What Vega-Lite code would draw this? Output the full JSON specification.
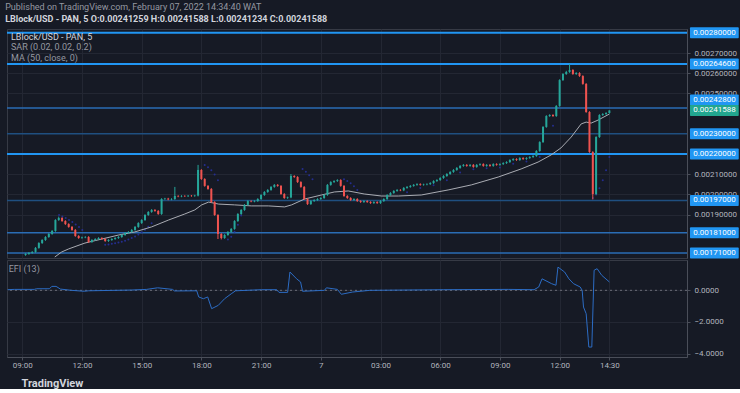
{
"$schema":"https://vega.github.io/schema/vega-lite/v6.json",
"background":"#161a25",
"padding":{"left":5,"top":2,"right":0,"bottom":0},
"title":{"text":"Published on TradingView.com, February 07, 2022 14:34:40 WAT","subtitle":"LBlock/USD - PAN, 5  O:0.00241259 H:0.00241588 L:0.00241234 C:0.00241588","anchor":"start","fontSize":9,"fontWeight":"normal","color":"#9598a1","subtitleFontSize":9,"subtitleFontWeight":"bold","subtitleColor":"#d1d4dc","subtitlePadding":3,"offset":3,"font":"Roboto","subtitleFont":"Roboto"},
"spacing":2,
"bounds":"flush",
"datasets":{
"candles":[
{"t":550,"o":0.0017,"h":0.001709,"l":0.001696,"c":0.001705},
{"t":560,"o":0.001705,"h":0.001714,"l":0.001701,"c":0.00171},
{"t":570,"o":0.00171,"h":0.001719,"l":0.001706,"c":0.001715},
{"t":580,"o":0.001715,"h":0.001739,"l":0.001711,"c":0.001735},
{"t":590,"o":0.001735,"h":0.001763,"l":0.001731,"c":0.001759},
{"t":600,"o":0.001759,"h":0.001778,"l":0.001755,"c":0.001774},
{"t":610,"o":0.001774,"h":0.001793,"l":0.00177,"c":0.001789},
{"t":620,"o":0.001789,"h":0.001808,"l":0.001785,"c":0.001804},
{"t":630,"o":0.001804,"h":0.001823,"l":0.0018,"c":0.001819},
{"t":640,"o":0.001819,"h":0.001877,"l":0.001815,"c":0.001873},
{"t":650,"o":0.001873,"h":0.00189,"l":0.001869,"c":0.001883},
{"t":660,"o":0.001883,"h":0.001887,"l":0.001864,"c":0.001868},
{"t":670,"o":0.001868,"h":0.001872,"l":0.001849,"c":0.001853},
{"t":680,"o":0.001853,"h":0.001857,"l":0.001835,"c":0.001839},
{"t":690,"o":0.001839,"h":0.001843,"l":0.00182,"c":0.001824},
{"t":700,"o":0.001824,"h":0.001828,"l":0.00179,"c":0.001794},
{"t":710,"o":0.001794,"h":0.001798,"l":0.00178,"c":0.001784},
{"t":720,"o":0.001784,"h":0.001791,"l":0.00178,"c":0.001787},
{"t":730,"o":0.001787,"h":0.001793,"l":0.001783,"c":0.001789},
{"t":740,"o":0.001789,"h":0.001793,"l":0.00176,"c":0.001764},
{"t":750,"o":0.001764,"h":0.001778,"l":0.00176,"c":0.001774},
{"t":760,"o":0.001774,"h":0.001783,"l":0.00177,"c":0.001779},
{"t":770,"o":0.001779,"h":0.001788,"l":0.001775,"c":0.001784},
{"t":780,"o":0.001784,"h":0.001788,"l":0.001775,"c":0.001779},
{"t":790,"o":0.001779,"h":0.001783,"l":0.001765,"c":0.001769},
{"t":800,"o":0.001769,"h":0.001778,"l":0.001765,"c":0.001774},
{"t":810,"o":0.001774,"h":0.001783,"l":0.00177,"c":0.001779},
{"t":820,"o":0.001779,"h":0.001788,"l":0.001775,"c":0.001784},
{"t":830,"o":0.001784,"h":0.001793,"l":0.00178,"c":0.001789},
{"t":840,"o":0.001789,"h":0.001803,"l":0.001785,"c":0.001799},
{"t":850,"o":0.001799,"h":0.001813,"l":0.001795,"c":0.001809},
{"t":860,"o":0.001809,"h":0.001818,"l":0.001805,"c":0.001814},
{"t":870,"o":0.001814,"h":0.001828,"l":0.00181,"c":0.001824},
{"t":880,"o":0.001824,"h":0.001843,"l":0.00182,"c":0.001839},
{"t":890,"o":0.001839,"h":0.001862,"l":0.001835,"c":0.001858},
{"t":900,"o":0.001858,"h":0.001877,"l":0.001854,"c":0.001873},
{"t":910,"o":0.001873,"h":0.001902,"l":0.001869,"c":0.001898},
{"t":920,"o":0.001898,"h":0.001917,"l":0.001894,"c":0.001913},
{"t":930,"o":0.001913,"h":0.001927,"l":0.001909,"c":0.001923},
{"t":940,"o":0.001923,"h":0.001927,"l":0.001914,"c":0.001918},
{"t":950,"o":0.001918,"h":0.001922,"l":0.001899,"c":0.001903},
{"t":960,"o":0.001903,"h":0.001981,"l":0.001899,"c":0.001977},
{"t":970,"o":0.001977,"h":0.001983,"l":0.001973,"c":0.001979},
{"t":980,"o":0.001979,"h":0.001983,"l":0.001971,"c":0.001975},
{"t":990,"o":0.001975,"h":0.001981,"l":0.001971,"c":0.001977},
{"t":1000,"o":0.001977,"h":0.002037,"l":0.001973,"c":0.001992},
{"t":1010,"o":0.001992,"h":0.001996,"l":0.001986,"c":0.00199},
{"t":1020,"o":0.00199,"h":0.001996,"l":0.001986,"c":0.001992},
{"t":1030,"o":0.001992,"h":0.001996,"l":0.001987,"c":0.001991},
{"t":1040,"o":0.001991,"h":0.001997,"l":0.001987,"c":0.001993},
{"t":1050,"o":0.001993,"h":0.001997,"l":0.001988,"c":0.001992},
{"t":1060,"o":0.001992,"h":0.001998,"l":0.001988,"c":0.001994},
{"t":1070,"o":0.001994,"h":0.002146,"l":0.00199,"c":0.002121},
{"t":1080,"o":0.002121,"h":0.002125,"l":0.002072,"c":0.002076},
{"t":1090,"o":0.002076,"h":0.00208,"l":0.002038,"c":0.002042},
{"t":1100,"o":0.002042,"h":0.002046,"l":0.002023,"c":0.002027},
{"t":1110,"o":0.002027,"h":0.002031,"l":0.001958,"c":0.001962},
{"t":1120,"o":0.001962,"h":0.001966,"l":0.001894,"c":0.001898},
{"t":1130,"o":0.001898,"h":0.001902,"l":0.001779,"c":0.001804},
{"t":1140,"o":0.001804,"h":0.001808,"l":0.001777,"c":0.001784},
{"t":1150,"o":0.001784,"h":0.001803,"l":0.00178,"c":0.001799},
{"t":1160,"o":0.001799,"h":0.001818,"l":0.001795,"c":0.001814},
{"t":1170,"o":0.001814,"h":0.001833,"l":0.00181,"c":0.001829},
{"t":1180,"o":0.001829,"h":0.001872,"l":0.001825,"c":0.001868},
{"t":1190,"o":0.001868,"h":0.001907,"l":0.001864,"c":0.001903},
{"t":1200,"o":0.001903,"h":0.001927,"l":0.001899,"c":0.001923},
{"t":1210,"o":0.001923,"h":0.001952,"l":0.001919,"c":0.001948},
{"t":1220,"o":0.001948,"h":0.001971,"l":0.001944,"c":0.001967},
{"t":1230,"o":0.001967,"h":0.001971,"l":0.001961,"c":0.001965},
{"t":1240,"o":0.001965,"h":0.001971,"l":0.001961,"c":0.001967},
{"t":1250,"o":0.001967,"h":0.001981,"l":0.001963,"c":0.001977},
{"t":1260,"o":0.001977,"h":0.002001,"l":0.001973,"c":0.001997},
{"t":1270,"o":0.001997,"h":0.002016,"l":0.001993,"c":0.002012},
{"t":1280,"o":0.002012,"h":0.002026,"l":0.002008,"c":0.002022},
{"t":1290,"o":0.002022,"h":0.002041,"l":0.002018,"c":0.002037},
{"t":1300,"o":0.002037,"h":0.002051,"l":0.002033,"c":0.002047},
{"t":1310,"o":0.002047,"h":0.002051,"l":0.002038,"c":0.002042},
{"t":1320,"o":0.002042,"h":0.002046,"l":0.001998,"c":0.002002},
{"t":1330,"o":0.002002,"h":0.002006,"l":0.001978,"c":0.001982},
{"t":1340,"o":0.001982,"h":0.001989,"l":0.001978,"c":0.001985},
{"t":1350,"o":0.001985,"h":0.002101,"l":0.001981,"c":0.002091},
{"t":1360,"o":0.002091,"h":0.002095,"l":0.002082,"c":0.002086},
{"t":1370,"o":0.002086,"h":0.00209,"l":0.002057,"c":0.002061},
{"t":1380,"o":0.002061,"h":0.002065,"l":0.002033,"c":0.002037},
{"t":1390,"o":0.002037,"h":0.002041,"l":0.001973,"c":0.001977},
{"t":1400,"o":0.001977,"h":0.001981,"l":0.001948,"c":0.001952},
{"t":1410,"o":0.001952,"h":0.001971,"l":0.001948,"c":0.001967},
{"t":1420,"o":0.001967,"h":0.001976,"l":0.001963,"c":0.001972},
{"t":1430,"o":0.001972,"h":0.001981,"l":0.001968,"c":0.001977},
{"t":1440,"o":0.001977,"h":0.001986,"l":0.001973,"c":0.001982},
{"t":1450,"o":0.001982,"h":0.002001,"l":0.001978,"c":0.001997},
{"t":1460,"o":0.001997,"h":0.002051,"l":0.001993,"c":0.002047},
{"t":1470,"o":0.002047,"h":0.002065,"l":0.002043,"c":0.002061},
{"t":1480,"o":0.002061,"h":0.00207,"l":0.002057,"c":0.002066},
{"t":1490,"o":0.002066,"h":0.002075,"l":0.002062,"c":0.002071},
{"t":1500,"o":0.002071,"h":0.002075,"l":0.002038,"c":0.002042},
{"t":1510,"o":0.002042,"h":0.002046,"l":0.001988,"c":0.001992},
{"t":1520,"o":0.001992,"h":0.001996,"l":0.001978,"c":0.001982},
{"t":1530,"o":0.001982,"h":0.001986,"l":0.001968,"c":0.001972},
{"t":1540,"o":0.001972,"h":0.001981,"l":0.001968,"c":0.001977},
{"t":1550,"o":0.001977,"h":0.001981,"l":0.001963,"c":0.001967},
{"t":1560,"o":0.001967,"h":0.001971,"l":0.001958,"c":0.001962},
{"t":1570,"o":0.001962,"h":0.001971,"l":0.001958,"c":0.001967},
{"t":1580,"o":0.001967,"h":0.001971,"l":0.001958,"c":0.001962},
{"t":1590,"o":0.001962,"h":0.001966,"l":0.001953,"c":0.001957},
{"t":1600,"o":0.001957,"h":0.001966,"l":0.001953,"c":0.001962},
{"t":1610,"o":0.001962,"h":0.001966,"l":0.001953,"c":0.001957},
{"t":1620,"o":0.001957,"h":0.001971,"l":0.001953,"c":0.001967},
{"t":1630,"o":0.001967,"h":0.001981,"l":0.001963,"c":0.001977},
{"t":1640,"o":0.001977,"h":0.002001,"l":0.001973,"c":0.001997},
{"t":1650,"o":0.001997,"h":0.002011,"l":0.001993,"c":0.002007},
{"t":1660,"o":0.002007,"h":0.002021,"l":0.002003,"c":0.002017},
{"t":1670,"o":0.002017,"h":0.002026,"l":0.002013,"c":0.002022},
{"t":1680,"o":0.002022,"h":0.002026,"l":0.002016,"c":0.00202},
{"t":1690,"o":0.00202,"h":0.002036,"l":0.002016,"c":0.002032},
{"t":1700,"o":0.002032,"h":0.002041,"l":0.002028,"c":0.002037},
{"t":1710,"o":0.002037,"h":0.002046,"l":0.002033,"c":0.002042},
{"t":1720,"o":0.002042,"h":0.002051,"l":0.002038,"c":0.002047},
{"t":1730,"o":0.002047,"h":0.002055,"l":0.002043,"c":0.002051},
{"t":1740,"o":0.002051,"h":0.002055,"l":0.002043,"c":0.002047},
{"t":1750,"o":0.002047,"h":0.002053,"l":0.002043,"c":0.002049},
{"t":1760,"o":0.002049,"h":0.002055,"l":0.002045,"c":0.002051},
{"t":1770,"o":0.002051,"h":0.00206,"l":0.002047,"c":0.002056},
{"t":1780,"o":0.002056,"h":0.00207,"l":0.002052,"c":0.002066},
{"t":1790,"o":0.002066,"h":0.002075,"l":0.002062,"c":0.002071},
{"t":1800,"o":0.002071,"h":0.002085,"l":0.002067,"c":0.002081},
{"t":1810,"o":0.002081,"h":0.002095,"l":0.002077,"c":0.002091},
{"t":1820,"o":0.002091,"h":0.002105,"l":0.002087,"c":0.002101},
{"t":1830,"o":0.002101,"h":0.002115,"l":0.002097,"c":0.002111},
{"t":1840,"o":0.002111,"h":0.002125,"l":0.002107,"c":0.002121},
{"t":1850,"o":0.002121,"h":0.002135,"l":0.002117,"c":0.002131},
{"t":1860,"o":0.002131,"h":0.002145,"l":0.002127,"c":0.002141},
{"t":1870,"o":0.002141,"h":0.00215,"l":0.002137,"c":0.002146},
{"t":1880,"o":0.002146,"h":0.00215,"l":0.002137,"c":0.002141},
{"t":1890,"o":0.002141,"h":0.00215,"l":0.002137,"c":0.002146},
{"t":1900,"o":0.002146,"h":0.00215,"l":0.002132,"c":0.002136},
{"t":1910,"o":0.002136,"h":0.00215,"l":0.002132,"c":0.002146},
{"t":1920,"o":0.002146,"h":0.002154,"l":0.002142,"c":0.00215},
{"t":1930,"o":0.00215,"h":0.002154,"l":0.002137,"c":0.002141},
{"t":1940,"o":0.002141,"h":0.00215,"l":0.002137,"c":0.002146},
{"t":1950,"o":0.002146,"h":0.00215,"l":0.002137,"c":0.002141},
{"t":1960,"o":0.002141,"h":0.002154,"l":0.002137,"c":0.00215},
{"t":1970,"o":0.00215,"h":0.002154,"l":0.002142,"c":0.002146},
{"t":1980,"o":0.002146,"h":0.002154,"l":0.002142,"c":0.00215},
{"t":1990,"o":0.00215,"h":0.002159,"l":0.002146,"c":0.002155},
{"t":2000,"o":0.002155,"h":0.002164,"l":0.002151,"c":0.00216},
{"t":2010,"o":0.00216,"h":0.002174,"l":0.002156,"c":0.00217},
{"t":2020,"o":0.00217,"h":0.002179,"l":0.002166,"c":0.002175},
{"t":2030,"o":0.002175,"h":0.002179,"l":0.002166,"c":0.00217},
{"t":2040,"o":0.00217,"h":0.002184,"l":0.002166,"c":0.00218},
{"t":2050,"o":0.00218,"h":0.002184,"l":0.002171,"c":0.002175},
{"t":2060,"o":0.002175,"h":0.002184,"l":0.002171,"c":0.00218},
{"t":2070,"o":0.00218,"h":0.002189,"l":0.002176,"c":0.002185},
{"t":2080,"o":0.002185,"h":0.002194,"l":0.002181,"c":0.00219},
{"t":2090,"o":0.00219,"h":0.002219,"l":0.002186,"c":0.002215},
{"t":2100,"o":0.002215,"h":0.002263,"l":0.002211,"c":0.002259},
{"t":2110,"o":0.002259,"h":0.002338,"l":0.002255,"c":0.002334},
{"t":2120,"o":0.002334,"h":0.002392,"l":0.00233,"c":0.002388},
{"t":2130,"o":0.002388,"h":0.002397,"l":0.002384,"c":0.002393},
{"t":2140,"o":0.002393,"h":0.002397,"l":0.002384,"c":0.002388},
{"t":2150,"o":0.002388,"h":0.002442,"l":0.002384,"c":0.002438},
{"t":2160,"o":0.002438,"h":0.00257,"l":0.002434,"c":0.002566},
{"t":2170,"o":0.002566,"h":0.0026,"l":0.002562,"c":0.002596},
{"t":2180,"o":0.002596,"h":0.002612,"l":0.002592,"c":0.002606},
{"t":2190,"o":0.002606,"h":0.002646,"l":0.002602,"c":0.002616},
{"t":2200,"o":0.002616,"h":0.00262,"l":0.002592,"c":0.002596},
{"t":2210,"o":0.002596,"h":0.002605,"l":0.002592,"c":0.002601},
{"t":2220,"o":0.002601,"h":0.002605,"l":0.002582,"c":0.002586},
{"t":2230,"o":0.002586,"h":0.00259,"l":0.002543,"c":0.002547},
{"t":2240,"o":0.002547,"h":0.002551,"l":0.002404,"c":0.002408},
{"t":2250,"o":0.002408,"h":0.002412,"l":0.002206,"c":0.00221},
{"t":2260,"o":0.00221,"h":0.002214,"l":0.001975,"c":0.002002},
{"t":2270,"o":0.002002,"h":0.002288,"l":0.001998,"c":0.002284},
{"t":2280,"o":0.002284,"h":0.002397,"l":0.00228,"c":0.002393},
{"t":2290,"o":0.002393,"h":0.002402,"l":0.002389,"c":0.002398},
{"t":2300,"o":0.002398,"h":0.002407,"l":0.002394,"c":0.002403},
{"t":2310,"o":0.002403,"h":0.00241588,"l":0.0024,"c":0.00241588}
],
"ma":[
{"t":638,"m":0.00169},{"t":659,"m":0.001715},{"t":680,"m":0.00173},{"t":705,"m":0.001745},{"t":729,"m":0.001759},{"t":780,"m":0.001779},{"t":831,"m":0.001799},{"t":879,"m":0.001814},{"t":930,"m":0.001839},{"t":981,"m":0.001873},{"t":1030,"m":0.001903},{"t":1060,"m":0.001923},{"t":1081,"m":0.001948},{"t":1102,"m":0.001962},{"t":1132,"m":0.001952},{"t":1180,"m":0.001948},{"t":1231,"m":0.001943},{"t":1282,"m":0.001943},{"t":1331,"m":0.001938},{"t":1352,"m":0.001948},{"t":1391,"m":0.001977},{"t":1442,"m":0.001997},{"t":1481,"m":0.002012},{"t":1523,"m":0.002017},{"t":1571,"m":0.002002},{"t":1623,"m":0.001992},{"t":1674,"m":0.001992},{"t":1743,"m":0.001997},{"t":1824,"m":0.002022},{"t":1894,"m":0.002047},{"t":1975,"m":0.002086},{"t":2044,"m":0.002126},{"t":2095,"m":0.00216},{"t":2134,"m":0.002195},{"t":2164,"m":0.00223},{"t":2195,"m":0.002284},{"t":2225,"m":0.002349},{"t":2240,"m":0.002358},{"t":2255,"m":0.002353},{"t":2276,"m":0.002368},{"t":2310,"m":0.002398}
],
"sar":[
{"t":651,"s":0.001898},{"t":661,"s":0.001891},{"t":671,"s":0.001883},{"t":681,"s":0.001873},{"t":691,"s":0.001863},{"t":701,"s":0.001851},{"t":711,"s":0.001839},{"t":721,"s":0.001824},
{"t":790,"s":0.00175},{"t":800,"s":0.001752},{"t":810,"s":0.001755},{"t":820,"s":0.001758},{"t":830,"s":0.001762},{"t":840,"s":0.001766},{"t":850,"s":0.001771},{"t":860,"s":0.001777},{"t":870,"s":0.001784},{"t":880,"s":0.001792},{"t":890,"s":0.001801},{"t":900,"s":0.001812},{"t":910,"s":0.001825},{"t":920,"s":0.00184},{"t":930,"s":0.001857},
{"t":1090,"s":0.002146},{"t":1100,"s":0.002135},{"t":1110,"s":0.00212},{"t":1120,"s":0.002098},{"t":1130,"s":0.00207},
{"t":1160,"s":0.001777},{"t":1170,"s":0.00179},{"t":1180,"s":0.001815},{"t":1190,"s":0.00185},{"t":1200,"s":0.001895},
{"t":1385,"s":0.002126},{"t":1395,"s":0.002112},{"t":1405,"s":0.002095},{"t":1415,"s":0.002075},
{"t":1510,"s":0.002075},{"t":1520,"s":0.002066},{"t":1530,"s":0.002055},{"t":1540,"s":0.00204},{"t":1550,"s":0.002022},
{"t":1700,"s":0.00201},{"t":1740,"s":0.002032},{"t":1780,"s":0.002045},{"t":1820,"s":0.00207},{"t":1860,"s":0.002108},{"t":1900,"s":0.002125},{"t":1940,"s":0.00213},{"t":1980,"s":0.002133},{"t":2020,"s":0.002152},{"t":2060,"s":0.002163},{"t":2100,"s":0.002185},{"t":2140,"s":0.00234},
{"t":2260,"s":0.001982},{"t":2270,"s":0.002},{"t":2280,"s":0.00203},{"t":2290,"s":0.00207},{"t":2300,"s":0.00212},{"t":2310,"s":0.002185}
],
"efi":[
{"t":496,"e":0.04},{"t":516,"e":0.06},{"t":576,"e":0.06},{"t":583,"e":0.1},{"t":622,"e":0.1},{"t":629,"e":0.25},{"t":642,"e":0.25},{"t":655,"e":0.08},{"t":688,"e":0},{"t":727,"e":-0.06},{"t":740,"e":-0.03},{"t":870,"e":0.02},{"t":915,"e":0.06},{"t":948,"e":0.16},{"t":993,"e":0.06},{"t":999,"e":-0.04},{"t":1066,"e":-0.03},{"t":1072,"e":-0.42},{"t":1086,"e":-0.53},{"t":1099,"e":-0.42},{"t":1111,"e":-1.16},{"t":1131,"e":-0.95},{"t":1150,"e":-0.53},{"t":1170,"e":-0.22},{"t":1183,"e":-0.03},{"t":1261,"e":0.04},{"t":1307,"e":0.04},{"t":1314,"e":-0.13},{"t":1340,"e":-0.13},{"t":1347,"e":1.16},{"t":1367,"e":0.73},{"t":1379,"e":0.53},{"t":1385,"e":-0.06},{"t":1451,"e":0},{"t":1457,"e":0.16},{"t":1490,"e":0.06},{"t":1502,"e":-0.25},{"t":1535,"e":-0.11},{"t":1588,"e":0},{"t":1809,"e":0.04},{"t":2005,"e":0.06},{"t":2083,"e":0.04},{"t":2097,"e":0.21},{"t":2107,"e":0.73},{"t":2136,"e":0.42},{"t":2149,"e":0.32},{"t":2155,"e":1.47},{"t":2175,"e":1.16},{"t":2188,"e":0.73},{"t":2202,"e":0.42},{"t":2222,"e":0.21},{"t":2228,"e":0},{"t":2232,"e":-1.06},{"t":2240,"e":-1.48},{"t":2248,"e":-3.59},{"t":2257,"e":-3.59},{"t":2264,"e":1.27},{"t":2273,"e":1.37},{"t":2287,"e":0.95},{"t":2310,"e":0.53}
],
"levels":[{"v":0.0028},{"v":0.002646},{"v":0.002428},{"v":0.0023},{"v":0.0022},{"v":0.00197},{"v":0.00181},{"v":0.00171}],
"last":[{"v":0.00241588}],
"zero":[{"v":0}]
},
"vconcat":[
{
"width":680,"height":229,
"title":{"text":"LBlock/USD - PAN, 5","subtitle":["SAR (0.02, 0.02, 0.2)","MA (50, close, 0)"],"anchor":"start","offset":-36,"dx":5,"fontSize":9,"fontWeight":"normal","color":"#d1d4dc","subtitleFontSize":9,"subtitleColor":"#9598a1","subtitlePadding":1,"lineHeight":11,"subtitleLineHeight":11,"font":"Roboto","subtitleFont":"Roboto"},
"layer":[
{"data":{"name":"candles"},"mark":{"type":"rule","strokeWidth":1,"opacity":0},
 "encoding":{
  "x":{"field":"t","type":"quantitative","title":null,"scale":{"domain":[494,2544],"nice":false,"zero":false,"padding":0},"axis":{"values":[540,720,900,1080,1260,1440,1620,1800,1980,2160,2310],"labels":false,"ticks":false,"domain":false,"grid":true,"gridColor":"#232733","title":null}},
  "y":{"field":"l","type":"quantitative","title":null,"scale":{"domain":[0.001685,0.002819],"nice":false,"zero":false,"padding":0},"axis":{"orient":"right","values":[0.0019,0.002,0.0021,0.0025,0.0026,0.0027],"format":".8f","labelFontSize":8,"labelColor":"#b2b5be","grid":true,"gridColor":"#232733","tickColor":"#4a4e59","tickSize":3,"domainColor":"#4a4e59","labelPadding":4,"title":null,"zindex":0}},
  "y2":{"field":"h"}
 }},
{"data":{"name":"levels"},"transform":[{"filter":{"field":"v","oneOf":[0.0028,0.002646,0.0022]}}],"mark":{"type":"rule","color":"#2196f3","strokeWidth":2},"encoding":{"y":{"field":"v","type":"quantitative","title":null}}},
{"data":{"name":"levels"},"transform":[{"filter":{"field":"v","oneOf":[0.002428,0.00181,0.00171]}}],"mark":{"type":"rule","color":"#2a6db5","strokeWidth":1.5},"encoding":{"y":{"field":"v","type":"quantitative","title":null}}},
{"data":{"name":"levels"},"transform":[{"filter":{"field":"v","oneOf":[0.0023,0.00197]}}],"mark":{"type":"rule","color":"#1f4f80","strokeWidth":1.5},"encoding":{"y":{"field":"v","type":"quantitative","title":null}}},
{"data":{"name":"sar"},"mark":{"type":"circle","color":"#26309a","size":4,"opacity":0.9},"encoding":{"x":{"field":"t","type":"quantitative","title":null},"y":{"field":"s","type":"quantitative","title":null}}},
{"data":{"name":"ma"},"mark":{"type":"line","color":"#b9bbc2","strokeWidth":1,"opacity":0.9},"encoding":{"x":{"field":"t","type":"quantitative","title":null},"y":{"field":"m","type":"quantitative","title":null}}},
{"data":{"name":"candles"},"mark":{"type":"rule","strokeWidth":1},
 "encoding":{"x":{"field":"t","type":"quantitative","title":null},"y":{"field":"l","type":"quantitative","title":null},"y2":{"field":"h"},
  "color":{"condition":{"test":"datum.c >= datum.o","value":"#26a69a"},"value":"#ef5350"}}},
{"data":{"name":"candles"},"mark":{"type":"bar","width":2},
 "encoding":{"x":{"field":"t","type":"quantitative","title":null},"y":{"field":"o","type":"quantitative","title":null},"y2":{"field":"c"},
  "color":{"condition":{"test":"datum.c >= datum.o","value":"#26a69a"},"value":"#ef5350"}}},
{"data":{"name":"levels"},"transform":[{"filter":"datum.v != 0.002428"}],"mark":{"type":"bar","height":11,"color":"#2196f3","cornerRadius":1},
 "encoding":{"x":{"datum":2553},"x2":{"datum":2700},"y":{"field":"v","type":"quantitative","title":null}}},
{"data":{"name":"levels"},"transform":[{"filter":"datum.v == 0.002428"}],"mark":{"type":"bar","height":11,"color":"#2196f3","cornerRadius":1,"yOffset":-8},
 "encoding":{"x":{"datum":2553},"x2":{"datum":2700},"y":{"field":"v","type":"quantitative","title":null}}},
{"data":{"name":"last"},"mark":{"type":"bar","height":11,"color":"#22a68f","cornerRadius":1},
 "encoding":{"x":{"datum":2553},"x2":{"datum":2700},"y":{"field":"v","type":"quantitative","title":null}}},
{"data":{"name":"levels"},"transform":[{"filter":"datum.v != 0.002428"}],"mark":{"type":"text","color":"#ffffff","fontSize":8,"align":"center","baseline":"middle","font":"Roboto"},
 "encoding":{"x":{"datum":2627},"y":{"field":"v","type":"quantitative","title":null},"text":{"field":"v","type":"quantitative","format":".8f"}}},
{"data":{"name":"levels"},"transform":[{"filter":"datum.v == 0.002428"}],"mark":{"type":"text","color":"#ffffff","fontSize":8,"align":"center","baseline":"middle","yOffset":-8,"font":"Roboto"},
 "encoding":{"x":{"datum":2627},"y":{"field":"v","type":"quantitative","title":null},"text":{"field":"v","type":"quantitative","format":".8f"}}},
{"data":{"name":"last"},"mark":{"type":"text","color":"#ffffff","fontSize":8,"align":"center","baseline":"middle","font":"Roboto"},
 "encoding":{"x":{"datum":2627},"y":{"field":"v","type":"quantitative","title":null},"text":{"field":"v","type":"quantitative","format":".8f"}}}
]
},
{
"width":680,"height":97,
"title":{"text":"EFI (13)","anchor":"start","offset":-14,"dx":3,"fontSize":9,"fontWeight":"normal","color":"#9598a1","font":"Roboto"},
"layer":[
{"data":{"name":"zero"},"mark":{"type":"rule","color":"#6a6d78","strokeDash":[2,3],"strokeWidth":1},"encoding":{"y":{"field":"v","type":"quantitative","title":null}}},
{"data":{"name":"efi"},"mark":{"type":"line","color":"#2c6cc4","strokeWidth":1},
 "encoding":{
  "x":{"field":"t","type":"quantitative","scale":{"domain":[494,2544],"nice":false,"zero":false,"padding":0},
   "axis":{"values":[540,720,900,1080,1260,1440,1620,1800,1980,2160,2310],"labelExpr":"datum.value==540?'09:00':datum.value==720?'12:00':datum.value==900?'15:00':datum.value==1080?'18:00':datum.value==1260?'21:00':datum.value==1440?'7':datum.value==1620?'03:00':datum.value==1800?'06:00':datum.value==1980?'09:00':datum.value==2160?'12:00':'14:30'","labelFlush":false,"labelFontSize":8,"labelColor":"#b2b5be","labelPadding":1,"tickSize":3,"tickColor":"#4a4e59","domainColor":"#4a4e59","grid":true,"gridColor":"#232733","title":"TradingView","titleAnchor":"start","titleAlign":"left","titleX":14,"titleFontSize":11,"titleFontWeight":"bold","titleColor":"#d1d4dc","titlePadding":8,"titleFont":"Roboto"}},
  "y":{"field":"e","type":"quantitative","scale":{"domain":[-4.22,1.92],"nice":false,"zero":false},
   "axis":{"orient":"right","values":[0,-2,-4],"format":".4f","labelFontSize":8,"labelColor":"#b2b5be","grid":true,"gridColor":"#232733","tickColor":"#4a4e59","tickSize":3,"domainColor":"#4a4e59","labelPadding":4,"title":null}}
 }}
]
}
],
"config":{"view":{"stroke":"#363a45"},"font":"Roboto","axis":{"labelFont":"Roboto"}}
}
